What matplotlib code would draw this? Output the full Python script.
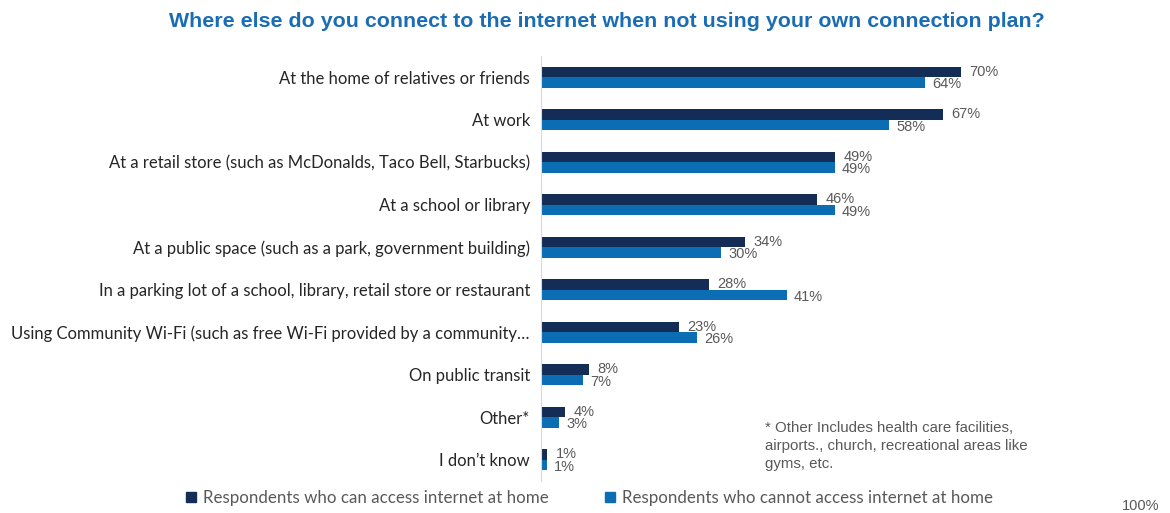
import matplotlib.pyplot as plt
import numpy as np
from matplotlib.lines import Line2D

categories = [
    'At the home of relatives or friends',
    'At work',
    'At a retail store (such as McDonalds, Taco Bell, Starbucks)',
    'At a school or library',
    'At a public space (such as a park, government building)',
    'In a parking lot of a school, library, retail store or restaurant',
    'Using Community Wi-Fi (such as free Wi-Fi provided by a community\u2026',
    'On public transit',
    'Other*',
    'I don\u2019t know',
]
can_access = [70, 67, 49, 46, 34, 28, 23, 8, 4, 1]
cannot_access = [64, 58, 49, 49, 30, 41, 26, 7, 3, 1]
series_names = ['Respondents who can access internet at home',
                'Respondents who cannot access internet at home']

dark = '#142d57'
light = '#0b6db3'
grey = '#595959'

fig = plt.figure(figsize=(11.7, 5.13), dpi=100)
ax = fig.add_axes([0.4624, 0.0624, 0.5126, 0.8286])

y = np.arange(len(categories))
h = 0.25
ax.barh(y - h / 2, can_access, height=h, color=dark)
ax.barh(y + h / 2, cannot_access, height=h, color=light)

for i in range(len(categories)):
    ax.text(can_access[i] + 1.4, y[i] - h / 2, f'{can_access[i]}%', va='center', ha='left',
            fontsize=10.5, color=grey, family='Liberation Sans')
    ax.text(cannot_access[i] + 1.2, y[i] + h / 2 + 0.04, f'{cannot_access[i]}%', va='center', ha='left',
            fontsize=10.5, color=grey, family='Liberation Sans')

ax.set_xlim(0, 100)
ax.set_ylim(len(categories) - 0.5, -0.5)
ax.set_yticks(y)
ax.set_yticklabels(categories, fontsize=12, color='#262626', family='Lato')
ax.tick_params(axis='y', length=0, pad=8)
ax.set_xticks([100])
ax.set_xticklabels(['100%'], fontsize=10.5, color=grey, family='Liberation Sans')
ax.tick_params(axis='x', length=0, pad=13)
for s in ['top', 'right', 'bottom']:
    ax.spines[s].set_visible(False)
ax.spines['left'].set_color('#d9d9d9')

fig.text(0.519, 0.958, 'Where else do you connect to the internet when not using your own connection plan?',
         ha='center', va='center', fontsize=15.4, fontweight='bold', color='#1a6db4',
         family='Liberation Sans')

fig.text(0.654, 0.082, '* Other Includes health care facilities,\nairports., church, recreational areas like\ngyms, etc.',
         ha='left', va='bottom', fontsize=10.8, color=grey, family='Liberation Sans', linespacing=1.35)

handles = [Line2D([], [], marker='s', linestyle='none', color=dark, markersize=7),
           Line2D([], [], marker='s', linestyle='none', color=light, markersize=7)]
fig.legend(handles, series_names, loc='center', bbox_to_anchor=(0.503, 0.03), ncol=2, frameon=False,
           prop={'family': 'Lato', 'size': 12.2}, labelcolor=grey, handletextpad=0.3, columnspacing=3.2,
           handlelength=0.8)

fig.savefig('out.png', dpi=100)
